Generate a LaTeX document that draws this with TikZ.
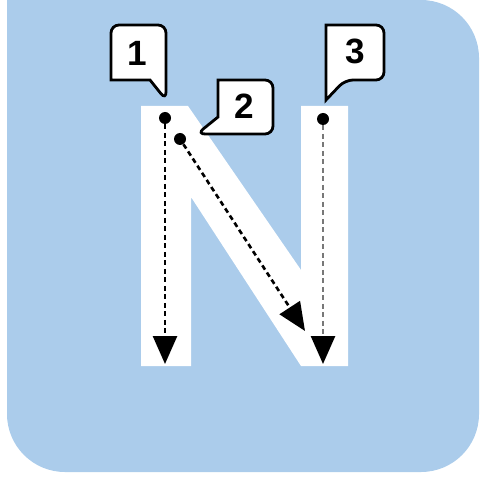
\documentclass[tikz,border=0pt]{standalone}
\usepackage{fontspec}
\setmainfont{Liberation Sans}
\usepackage{tikz}
\usetikzlibrary{arrows.meta,positioning}
\definecolor{PanelBlue}{RGB}{171, 204, 235}
\definecolor{TraceGray}{RGB}{120, 120, 120}
\tikzset{
    x=0.02cm, y=-0.02cm,
    dot/.style={circle, fill=black, inner sep=0pt, minimum size=0.24cm},
    trace/.style={line width=1.5pt, dash pattern=on 0.1cm off 0.07cm,
        -{Triangle[length=0.56cm, width=0.48cm, color=black]}},
    bubble/.style={draw=black, fill=white, line width=1.6pt, line join=miter},
    digit/.style={font=\fontsize{20}{22}\selectfont\bfseries, inner sep=0pt}
}
\begin{document}
\begin{tikzpicture}
    \useasboundingbox (0,0) rectangle (480,482);
    % panel
    \fill[PanelBlue] (7,0) [rounded corners=1.16cm] -- (479,0) -- (479,472) -- (7,472) [sharp corners] -- cycle;
    % letter N
    \fill[white] (141,106) -- (188,106) -- (301,270) -- (301,106) -- (348,106) -- (348,366)
        -- (301,366) -- (191,197) -- (191,366) -- (141,366) -- cycle;
    % start points and strokes
    \node[dot] (d1) at (165,118) {};
    \node[dot] (d2) at (180,139) {};
    \node[dot] (d3) at (323,119) {};
    \coordinate (e1) at (165,364);
    \coordinate (e2) at (305,331);
    \coordinate (e3) at (323,364);
    \draw[trace] (d1) -- (e1);
    \draw[trace] (d2) -- (e2);
    \draw[trace, TraceGray] (d3) -- (e3);
    % callouts
    \draw[bubble] (138,25) [rounded corners=0.16cm] -- (166,25) -- (166,100) [sharp corners] -- (150,80)
        -- (111,80) [rounded corners=0.16cm] -- (111,25) -- cycle;
    \draw[bubble] (245,80) [rounded corners=0.16cm] -- (273,80) -- (273,134) -- (197,134) [sharp corners]
        -- (218,117) -- (218,80) [rounded corners=0.16cm] -- cycle;
    \draw[bubble] (355,25) [rounded corners=0.16cm] -- (384,25) -- (384,80) -- (345,80) [sharp corners]
        -- (326,100) -- (326,25) [rounded corners=0.16cm] -- cycle;
    \node[digit] (n1) at (137,53) {1};
    \node[digit] (n2) at (244,106) {2};
    \node[digit] (n3) at (355,51) {3};
\end{tikzpicture}
\end{document}
